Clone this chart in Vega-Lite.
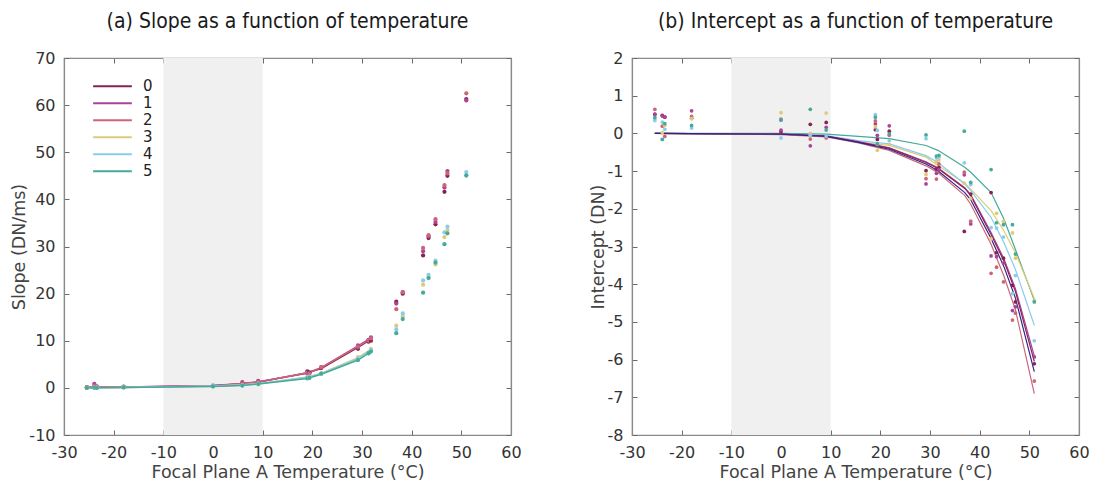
{
  "$schema": "https://vega.github.io/schema/vega-lite/v6.json",
  "padding": {"left": 10, "top": 10, "right": 5, "bottom": 0},
  "background": "white",
  "spacing": 66,
  "config": {
    "view": {"stroke": "#8a8a8a", "strokeWidth": 1.2},
    "axis": {
      "domainColor": "#8a8a8a", "domainWidth": 1.2, "tickColor": "#6a6a6a", "tickSize": -5, "tickWidth": 1,
      "labelFont": "DejaVu Sans", "labelFontSize": 16, "labelColor": "#333333",
      "titleFont": "DejaVu Sans", "titleFontSize": 17.5, "titleColor": "#444444", "titleFontWeight": "normal",
      "grid": false, "labelFlush": false, "labelOverlap": false,
      "labelExpr": "replace(datum.label, '\u2212', '-')"
    },
    "axisX": {"labelPadding": 14, "titlePadding": 3},
    "axisY": {"labelPadding": 14, "titlePadding": 0},
    "title": {"font": "DejaVu Sans Condensed, Liberation Sans Narrow, sans-serif", "fontSize": 21, "fontWeight": "normal", "color": "#1a1a1a", "frame": "group", "anchor": "middle", "baseline": "bottom", "offset": 18},
    "legend": {"labelFont": "DejaVu Sans", "labelFontSize": 15, "labelColor": "#222222", "padding": 0}
  },
  "resolve": {"scale": {"color": "independent"}, "legend": {"color": "independent"}},
  "datasets": {
    "shade": [{"a": -10, "b": 10, "slo": -10, "shi": 70, "ilo": -8, "ihi": 2}],
    "pts": [
      {"T": -25.4, "ch": "0", "s": 0.1, "i": 0.51}, {"T": -25.4, "ch": "1", "s": 0.15, "i": 0.5}, {"T": -25.4, "ch": "2", "s": 0.1, "i": 0.64}, {"T": -25.4, "ch": "3", "s": 0.05, "i": 0.39}, {"T": -25.4, "ch": "4", "s": 0.0, "i": 0.34}, {"T": -25.4, "ch": "5", "s": 0.0, "i": 0.42},
      {"T": -23.9, "ch": "0", "s": 0.3, "i": 0.48}, {"T": -23.9, "ch": "1", "s": 0.85, "i": 0.46}, {"T": -23.9, "ch": "2", "s": 0.5, "i": 0.19}, {"T": -23.9, "ch": "3", "s": 0.1, "i": 0.02}, {"T": -23.9, "ch": "4", "s": 0.15, "i": 0.3}, {"T": -23.9, "ch": "5", "s": 0.05, "i": -0.16},
      {"T": -23.4, "ch": "0", "s": 0.2, "i": 0.43}, {"T": -23.4, "ch": "1", "s": 0.3, "i": 0.44}, {"T": -23.4, "ch": "2", "s": 0.25, "i": -0.08}, {"T": -23.4, "ch": "3", "s": 0.05, "i": 0.21}, {"T": -23.4, "ch": "4", "s": 0.1, "i": 0.11}, {"T": -23.4, "ch": "5", "s": 0.0, "i": 0.26},
      {"T": -18.0, "ch": "0", "s": 0.2, "i": 0.4}, {"T": -18.0, "ch": "1", "s": 0.25, "i": 0.6}, {"T": -18.0, "ch": "2", "s": 0.2, "i": 0.45}, {"T": -18.0, "ch": "3", "s": 0.15, "i": 0.39}, {"T": -18.0, "ch": "4", "s": 0.1, "i": 0.14}, {"T": -18.0, "ch": "5", "s": 0.1, "i": 0.21},
      {"T": 0.0, "ch": "0", "s": 0.4, "i": 0.05}, {"T": 0.0, "ch": "1", "s": 0.45, "i": 0.09}, {"T": 0.0, "ch": "2", "s": 0.4, "i": 0.38}, {"T": 0.0, "ch": "3", "s": 0.3, "i": 0.55}, {"T": 0.0, "ch": "4", "s": 0.6, "i": -0.12}, {"T": 0.0, "ch": "5", "s": 0.3, "i": 0.35},
      {"T": 5.9, "ch": "0", "s": 0.8, "i": 0.24}, {"T": 5.9, "ch": "1", "s": 1.2, "i": -0.33}, {"T": 5.9, "ch": "2", "s": 0.9, "i": -0.15}, {"T": 5.9, "ch": "3", "s": 0.6, "i": 0.0}, {"T": 5.9, "ch": "4", "s": 0.5, "i": -0.05}, {"T": 5.9, "ch": "5", "s": 0.5, "i": 0.64},
      {"T": 9.1, "ch": "0", "s": 1.2, "i": 0.29}, {"T": 9.1, "ch": "1", "s": 1.5, "i": 0.16}, {"T": 9.1, "ch": "2", "s": 1.3, "i": -0.12}, {"T": 9.1, "ch": "3", "s": 0.85, "i": 0.54}, {"T": 9.1, "ch": "4", "s": 0.9, "i": -0.07}, {"T": 9.1, "ch": "5", "s": 0.8, "i": 0.09},
      {"T": 19.0, "ch": "0", "s": 3.5, "i": 0.1}, {"T": 19.0, "ch": "1", "s": 3.0, "i": 0.25}, {"T": 19.0, "ch": "2", "s": 3.2, "i": 0.33}, {"T": 19.0, "ch": "3", "s": 2.3, "i": 0.17}, {"T": 19.0, "ch": "4", "s": 2.2, "i": 0.5}, {"T": 19.0, "ch": "5", "s": 2.0, "i": 0.43},
      {"T": 19.4, "ch": "0", "s": 3.3, "i": -0.16}, {"T": 19.4, "ch": "1", "s": 3.1, "i": -0.05}, {"T": 19.4, "ch": "2", "s": 3.0, "i": -0.3}, {"T": 19.4, "ch": "3", "s": 2.1, "i": -0.45}, {"T": 19.4, "ch": "4", "s": 2.4, "i": 0.08}, {"T": 19.4, "ch": "5", "s": 2.1, "i": -0.28},
      {"T": 21.8, "ch": "0", "s": 4.2, "i": 0.06}, {"T": 21.8, "ch": "1", "s": 4.4, "i": 0.2}, {"T": 21.8, "ch": "2", "s": 4.4, "i": -0.05}, {"T": 21.8, "ch": "3", "s": 3.1, "i": -0.29}, {"T": 21.8, "ch": "4", "s": 3.0, "i": -0.19}, {"T": 21.8, "ch": "5", "s": 3.0, "i": -0.01},
      {"T": 29.2, "ch": "0", "s": 8.3, "i": -0.99}, {"T": 29.2, "ch": "1", "s": 9.0, "i": -1.34}, {"T": 29.2, "ch": "2", "s": 8.7, "i": -1.2}, {"T": 29.2, "ch": "3", "s": 6.5, "i": -1.09}, {"T": 29.2, "ch": "4", "s": 6.2, "i": -0.14}, {"T": 29.2, "ch": "5", "s": 5.9, "i": -0.04},
      {"T": 31.3, "ch": "0", "s": 9.8, "i": -0.95}, {"T": 31.3, "ch": "1", "s": 10.2, "i": -1.06}, {"T": 31.3, "ch": "2", "s": 10.0, "i": -1.21}, {"T": 31.3, "ch": "3", "s": 7.5, "i": -0.75}, {"T": 31.3, "ch": "4", "s": 7.4, "i": -0.65}, {"T": 31.3, "ch": "5", "s": 7.3, "i": -0.6},
      {"T": 31.8, "ch": "0", "s": 10.0, "i": -0.9}, {"T": 31.8, "ch": "1", "s": 10.7, "i": -0.96}, {"T": 31.8, "ch": "2", "s": 10.5, "i": -0.81}, {"T": 31.8, "ch": "3", "s": 8.3, "i": -0.7}, {"T": 31.8, "ch": "4", "s": 8.0, "i": -0.62}, {"T": 31.8, "ch": "5", "s": 7.7, "i": -0.58},
      {"T": 36.9, "ch": "0", "s": 18.3, "i": -2.6}, {"T": 36.9, "ch": "1", "s": 17.9, "i": -1.1}, {"T": 36.9, "ch": "2", "s": 16.7, "i": -1.03}, {"T": 36.9, "ch": "3", "s": 13.2, "i": -1.32}, {"T": 36.9, "ch": "4", "s": 12.4, "i": -0.78}, {"T": 36.9, "ch": "5", "s": 11.6, "i": 0.06},
      {"T": 38.2, "ch": "0", "s": 20.0, "i": -1.61}, {"T": 38.2, "ch": "1", "s": 20.3, "i": -2.4}, {"T": 38.2, "ch": "2", "s": 20.3, "i": -2.33}, {"T": 38.2, "ch": "3", "s": 15.2, "i": -1.73}, {"T": 38.2, "ch": "4", "s": 15.8, "i": -1.36}, {"T": 38.2, "ch": "5", "s": 14.6, "i": -1.3},
      {"T": 42.3, "ch": "0", "s": 28.1, "i": -1.57}, {"T": 42.3, "ch": "1", "s": 29.0, "i": -3.25}, {"T": 42.3, "ch": "2", "s": 29.7, "i": -3.71}, {"T": 42.3, "ch": "3", "s": 21.9, "i": -2.8}, {"T": 42.3, "ch": "4", "s": 22.8, "i": -2.5}, {"T": 42.3, "ch": "5", "s": 20.2, "i": -0.96},
      {"T": 43.4, "ch": "0", "s": 31.8, "i": -3.16}, {"T": 43.4, "ch": "1", "s": 32.2, "i": -3.27}, {"T": 43.4, "ch": "2", "s": 32.4, "i": -3.55}, {"T": 43.4, "ch": "3", "s": 23.5, "i": -2.12}, {"T": 43.4, "ch": "4", "s": 24.0, "i": -2.51}, {"T": 43.4, "ch": "5", "s": 23.3, "i": -2.37},
      {"T": 44.8, "ch": "0", "s": 34.7, "i": -3.31}, {"T": 44.8, "ch": "1", "s": 35.2, "i": -3.44}, {"T": 44.8, "ch": "2", "s": 35.8, "i": -3.94}, {"T": 44.8, "ch": "3", "s": 26.2, "i": -2.33}, {"T": 44.8, "ch": "4", "s": 27.0, "i": -2.75}, {"T": 44.8, "ch": "5", "s": 26.6, "i": -2.42},
      {"T": 46.6, "ch": "0", "s": 41.6, "i": -4.03}, {"T": 46.6, "ch": "1", "s": 42.5, "i": -4.7}, {"T": 46.6, "ch": "2", "s": 43.0, "i": -4.95}, {"T": 46.6, "ch": "3", "s": 32.0, "i": -2.64}, {"T": 46.6, "ch": "4", "s": 33.0, "i": -4.25}, {"T": 46.6, "ch": "5", "s": 30.5, "i": -2.42},
      {"T": 47.2, "ch": "0", "s": 45.0, "i": -4.47}, {"T": 47.2, "ch": "1", "s": 46.0, "i": -4.6}, {"T": 47.2, "ch": "2", "s": 45.5, "i": -4.77}, {"T": 47.2, "ch": "3", "s": 33.5, "i": -3.31}, {"T": 47.2, "ch": "4", "s": 34.2, "i": -3.77}, {"T": 47.2, "ch": "5", "s": 32.8, "i": -3.2},
      {"T": 51.0, "ch": "0", "s": 61.3, "i": -6.11}, {"T": 51.0, "ch": "1", "s": 61.0, "i": -5.93}, {"T": 51.0, "ch": "2", "s": 62.5, "i": -6.57}, {"T": 51.0, "ch": "3", "s": 45.0, "i": -4.43}, {"T": 51.0, "ch": "4", "s": 45.8, "i": -5.5}, {"T": 51.0, "ch": "5", "s": 45.1, "i": -4.47}
    ],
    "sfit": [
      {"T": -25.4, "ch": "0", "v": 0.1}, {"T": -18, "ch": "0", "v": 0.15}, {"T": 0, "ch": "0", "v": 0.45}, {"T": 5.9, "ch": "0", "v": 0.85}, {"T": 9.1, "ch": "0", "v": 1.2}, {"T": 19.0, "ch": "0", "v": 3.2}, {"T": 21.8, "ch": "0", "v": 4.1}, {"T": 29.2, "ch": "0", "v": 8.6}, {"T": 31.8, "ch": "0", "v": 10.3},
      {"T": -25.4, "ch": "1", "v": 0.15}, {"T": -18, "ch": "1", "v": 0.2}, {"T": 0, "ch": "1", "v": 0.5}, {"T": 5.9, "ch": "1", "v": 0.95}, {"T": 9.1, "ch": "1", "v": 1.3}, {"T": 19.0, "ch": "1", "v": 3.1}, {"T": 21.8, "ch": "1", "v": 4.3}, {"T": 29.2, "ch": "1", "v": 8.9}, {"T": 31.8, "ch": "1", "v": 10.6},
      {"T": -25.4, "ch": "2", "v": 0.1}, {"T": -18, "ch": "2", "v": 0.18}, {"T": 0, "ch": "2", "v": 0.45}, {"T": 5.9, "ch": "2", "v": 0.9}, {"T": 9.1, "ch": "2", "v": 1.25}, {"T": 19.0, "ch": "2", "v": 3.2}, {"T": 21.8, "ch": "2", "v": 4.3}, {"T": 29.2, "ch": "2", "v": 8.8}, {"T": 31.8, "ch": "2", "v": 10.4},
      {"T": -25.4, "ch": "3", "v": 0.05}, {"T": -18, "ch": "3", "v": 0.1}, {"T": 0, "ch": "3", "v": 0.35}, {"T": 5.9, "ch": "3", "v": 0.6}, {"T": 9.1, "ch": "3", "v": 0.9}, {"T": 19.0, "ch": "3", "v": 2.3}, {"T": 21.8, "ch": "3", "v": 3.1}, {"T": 29.2, "ch": "3", "v": 6.4}, {"T": 31.8, "ch": "3", "v": 8.2},
      {"T": -25.4, "ch": "4", "v": 0.0}, {"T": -18, "ch": "4", "v": 0.1}, {"T": 0, "ch": "4", "v": 0.4}, {"T": 5.9, "ch": "4", "v": 0.6}, {"T": 9.1, "ch": "4", "v": 0.9}, {"T": 19.0, "ch": "4", "v": 2.2}, {"T": 21.8, "ch": "4", "v": 3.0}, {"T": 29.2, "ch": "4", "v": 6.2}, {"T": 31.8, "ch": "4", "v": 8.0},
      {"T": -25.4, "ch": "5", "v": 0.0}, {"T": -18, "ch": "5", "v": 0.08}, {"T": 0, "ch": "5", "v": 0.3}, {"T": 5.9, "ch": "5", "v": 0.5}, {"T": 9.1, "ch": "5", "v": 0.8}, {"T": 19.0, "ch": "5", "v": 2.0}, {"T": 21.8, "ch": "5", "v": 2.9}, {"T": 29.2, "ch": "5", "v": 5.9}, {"T": 31.8, "ch": "5", "v": 7.7}
    ],
    "ifit": [
      {"T": -25.4, "ch": "5", "v": 0.0}, {"T": 0, "ch": "5", "v": 0.0}, {"T": 9.1, "ch": "5", "v": -0.02}, {"T": 15.6, "ch": "5", "v": -0.08}, {"T": 21.8, "ch": "5", "v": -0.14}, {"T": 29.2, "ch": "5", "v": -0.32}, {"T": 31.6, "ch": "5", "v": -0.45}, {"T": 37.0, "ch": "5", "v": -0.9}, {"T": 38.2, "ch": "5", "v": -1.03}, {"T": 42.3, "ch": "5", "v": -1.57}, {"T": 44.9, "ch": "5", "v": -2.28}, {"T": 47.2, "ch": "5", "v": -3.08}, {"T": 51.0, "ch": "5", "v": -4.43},
      {"T": -25.4, "ch": "3", "v": 0.0}, {"T": 0, "ch": "3", "v": -0.02}, {"T": 9.1, "ch": "3", "v": -0.07}, {"T": 15.6, "ch": "3", "v": -0.23}, {"T": 21.8, "ch": "3", "v": -0.32}, {"T": 29.2, "ch": "3", "v": -0.63}, {"T": 31.6, "ch": "3", "v": -0.85}, {"T": 37.0, "ch": "3", "v": -1.32}, {"T": 38.2, "ch": "3", "v": -1.48}, {"T": 42.3, "ch": "3", "v": -2.05}, {"T": 44.9, "ch": "3", "v": -2.59}, {"T": 47.2, "ch": "3", "v": -3.17}, {"T": 51.0, "ch": "3", "v": -4.37},
      {"T": -25.4, "ch": "4", "v": 0.0}, {"T": 0, "ch": "4", "v": -0.02}, {"T": 9.1, "ch": "4", "v": -0.06}, {"T": 15.6, "ch": "4", "v": -0.19}, {"T": 21.8, "ch": "4", "v": -0.28}, {"T": 29.2, "ch": "4", "v": -0.59}, {"T": 31.6, "ch": "4", "v": -0.77}, {"T": 37.0, "ch": "4", "v": -1.34}, {"T": 38.2, "ch": "4", "v": -1.52}, {"T": 42.3, "ch": "4", "v": -2.23}, {"T": 44.9, "ch": "4", "v": -2.9}, {"T": 47.2, "ch": "4", "v": -3.61}, {"T": 51.0, "ch": "4", "v": -5.09},
      {"T": -25.4, "ch": "1", "v": 0.0}, {"T": 0, "ch": "1", "v": -0.02}, {"T": 9.1, "ch": "1", "v": -0.07}, {"T": 15.6, "ch": "1", "v": -0.22}, {"T": 21.8, "ch": "1", "v": -0.38}, {"T": 29.2, "ch": "1", "v": -0.75}, {"T": 31.6, "ch": "1", "v": -0.91}, {"T": 37.0, "ch": "1", "v": -1.44}, {"T": 38.2, "ch": "1", "v": -1.62}, {"T": 42.3, "ch": "1", "v": -2.63}, {"T": 44.9, "ch": "1", "v": -3.33}, {"T": 47.2, "ch": "1", "v": -4.12}, {"T": 51.0, "ch": "1", "v": -5.9},
      {"T": -25.4, "ch": "0", "v": 0.0}, {"T": 0, "ch": "0", "v": -0.02}, {"T": 9.1, "ch": "0", "v": -0.07}, {"T": 15.6, "ch": "0", "v": -0.23}, {"T": 21.8, "ch": "0", "v": -0.39}, {"T": 29.2, "ch": "0", "v": -0.77}, {"T": 31.6, "ch": "0", "v": -0.93}, {"T": 37.0, "ch": "0", "v": -1.46}, {"T": 38.2, "ch": "0", "v": -1.65}, {"T": 42.3, "ch": "0", "v": -2.68}, {"T": 44.9, "ch": "0", "v": -3.39}, {"T": 47.2, "ch": "0", "v": -4.19}, {"T": 51.0, "ch": "0", "v": -6.05},
      {"T": -25.4, "ch": "m", "v": 0.0}, {"T": 0, "ch": "m", "v": -0.02}, {"T": 9.1, "ch": "m", "v": -0.08}, {"T": 15.6, "ch": "m", "v": -0.24}, {"T": 21.8, "ch": "m", "v": -0.42}, {"T": 29.2, "ch": "m", "v": -0.81}, {"T": 31.6, "ch": "m", "v": -0.99}, {"T": 37.0, "ch": "m", "v": -1.57}, {"T": 38.2, "ch": "m", "v": -1.76}, {"T": 42.3, "ch": "m", "v": -2.79}, {"T": 44.9, "ch": "m", "v": -3.54}, {"T": 47.2, "ch": "m", "v": -4.37}, {"T": 51.0, "ch": "m", "v": -6.32},
      {"T": -25.4, "ch": "2", "v": 0.0}, {"T": 0, "ch": "2", "v": -0.03}, {"T": 9.1, "ch": "2", "v": -0.09}, {"T": 15.6, "ch": "2", "v": -0.25}, {"T": 21.8, "ch": "2", "v": -0.45}, {"T": 29.2, "ch": "2", "v": -0.86}, {"T": 31.6, "ch": "2", "v": -1.04}, {"T": 37.0, "ch": "2", "v": -1.65}, {"T": 38.2, "ch": "2", "v": -1.88}, {"T": 42.3, "ch": "2", "v": -2.94}, {"T": 44.9, "ch": "2", "v": -3.79}, {"T": 47.2, "ch": "2", "v": -4.68}, {"T": 51.0, "ch": "2", "v": -6.9}
    ]
  },
  "hconcat": [
    {
      "width": 447, "height": 377,
      "title": {"text": "(a) Slope as a function of temperature"},
      "resolve": {"axis": {"x": "independent", "y": "independent"}},
      "layer": [
        {
          "data": {"name": "shade"},
          "mark": {"type": "rect", "color": "#f0f0f0"},
          "encoding": {
            "x": {"field": "a", "type": "quantitative", "scale": {"domain": [-30, 60], "nice": false}, "axis": {"title": "Focal Plane A Temperature (°C)", "values": [-30, -20, -10, 0, 10, 20, 30, 40, 50, 60]}},
            "x2": {"field": "b"},
            "y": {"field": "slo", "type": "quantitative", "scale": {"domain": [-10, 70], "nice": false}, "axis": {"title": "Slope (DN/ms)", "values": [-10, 0, 10, 20, 30, 40, 50, 60, 70]}},
            "y2": {"field": "shi"}
          }
        },
        {
          "data": {"name": "sfit"},
          "mark": {"type": "line", "strokeWidth": 1.5},
          "encoding": {
            "x": {"field": "T", "type": "quantitative", "scale": {"domain": [-30, 60], "nice": false}, "axis": {"orient": "top", "title": null, "labels": false, "values": [-30, -20, -10, 0, 10, 20, 30, 40, 50, 60]}},
            "y": {"field": "v", "type": "quantitative", "scale": {"domain": [-10, 70], "nice": false}, "axis": {"orient": "right", "title": null, "labels": false, "values": [-10, 0, 10, 20, 30, 40, 50, 60, 70]}},
            "color": {"field": "ch", "type": "nominal", "scale": {"domain": ["0", "1", "2", "3", "4", "5"], "range": ["#882255", "#AA4499", "#CC6677", "#DDCC77", "#88CCEE", "#44AA99"]},
              "legend": {"title": null, "orient": "none", "legendX": 28, "legendY": 20, "symbolType": "stroke", "symbolSize": 1500, "symbolStrokeWidth": 2, "clipHeight": 16.5, "rowPadding": 0, "labelOffset": 10}}
          }
        },
        {
          "data": {"name": "pts"},
          "mark": {"type": "point", "filled": true, "size": 18, "opacity": 1},
          "encoding": {
            "x": {"field": "T", "type": "quantitative", "scale": {"domain": [-30, 60], "nice": false}, "axis": null},
            "y": {"field": "s", "type": "quantitative", "scale": {"domain": [-10, 70], "nice": false}, "axis": null},
            "color": {"field": "ch", "type": "nominal", "scale": {"domain": ["0", "1", "2", "3", "4", "5"], "range": ["#882255", "#AA4499", "#CC6677", "#DDCC77", "#88CCEE", "#44AA99"]},
              "legend": {"title": null, "orient": "none", "legendX": 28, "legendY": 20, "symbolType": "stroke", "symbolSize": 1500, "symbolStrokeWidth": 2, "clipHeight": 16.5, "rowPadding": 0, "labelOffset": 10}}
          }
        }
      ]
    },
    {
      "width": 447, "height": 377,
      "title": {"text": "(b) Intercept as a function of temperature"},
      "resolve": {"axis": {"x": "independent", "y": "independent"}},
      "layer": [
        {
          "data": {"name": "shade"},
          "mark": {"type": "rect", "color": "#f0f0f0"},
          "encoding": {
            "x": {"field": "a", "type": "quantitative", "scale": {"domain": [-30, 60], "nice": false}, "axis": {"title": "Focal Plane A Temperature (°C)", "values": [-30, -20, -10, 0, 10, 20, 30, 40, 50, 60]}},
            "x2": {"field": "b"},
            "y": {"field": "ilo", "type": "quantitative", "scale": {"domain": [-8, 2], "nice": false}, "axis": {"title": "Intercept (DN)", "values": [-8, -7, -6, -5, -4, -3, -2, -1, 0, 1, 2]}},
            "y2": {"field": "ihi"}
          }
        },
        {
          "data": {"name": "ifit"},
          "transform": [{"filter": "datum.ch !== 'm'"}],
          "mark": {"type": "line", "strokeWidth": 1.2},
          "encoding": {
            "x": {"field": "T", "type": "quantitative", "scale": {"domain": [-30, 60], "nice": false}, "axis": {"orient": "top", "title": null, "labels": false, "values": [-30, -20, -10, 0, 10, 20, 30, 40, 50, 60]}},
            "y": {"field": "v", "type": "quantitative", "scale": {"domain": [-8, 2], "nice": false}, "axis": {"orient": "right", "title": null, "labels": false, "values": [-8, -7, -6, -5, -4, -3, -2, -1, 0, 1, 2]}},
            "color": {"field": "ch", "type": "nominal", "scale": {"domain": ["0", "1", "2", "3", "4", "5"], "range": ["#882255", "#AA4499", "#CC6677", "#DDCC77", "#88CCEE", "#44AA99"]}, "legend": null}
          }
        },
        {
          "data": {"name": "ifit"},
          "transform": [{"filter": "datum.ch === 'm'"}],
          "mark": {"type": "line", "strokeWidth": 1.2, "color": "#332288"},
          "encoding": {
            "x": {"field": "T", "type": "quantitative", "scale": {"domain": [-30, 60], "nice": false}, "axis": null},
            "y": {"field": "v", "type": "quantitative", "scale": {"domain": [-8, 2], "nice": false}, "axis": null}
          }
        },
        {
          "data": {"name": "pts"},
          "mark": {"type": "point", "filled": true, "size": 14, "opacity": 1},
          "encoding": {
            "x": {"field": "T", "type": "quantitative", "scale": {"domain": [-30, 60], "nice": false}, "axis": null},
            "y": {"field": "i", "type": "quantitative", "scale": {"domain": [-8, 2], "nice": false}, "axis": null},
            "color": {"field": "ch", "type": "nominal", "scale": {"domain": ["0", "1", "2", "3", "4", "5"], "range": ["#882255", "#AA4499", "#CC6677", "#DDCC77", "#88CCEE", "#44AA99"]}, "legend": null}
          }
        }
      ]
    }
  ]
}
